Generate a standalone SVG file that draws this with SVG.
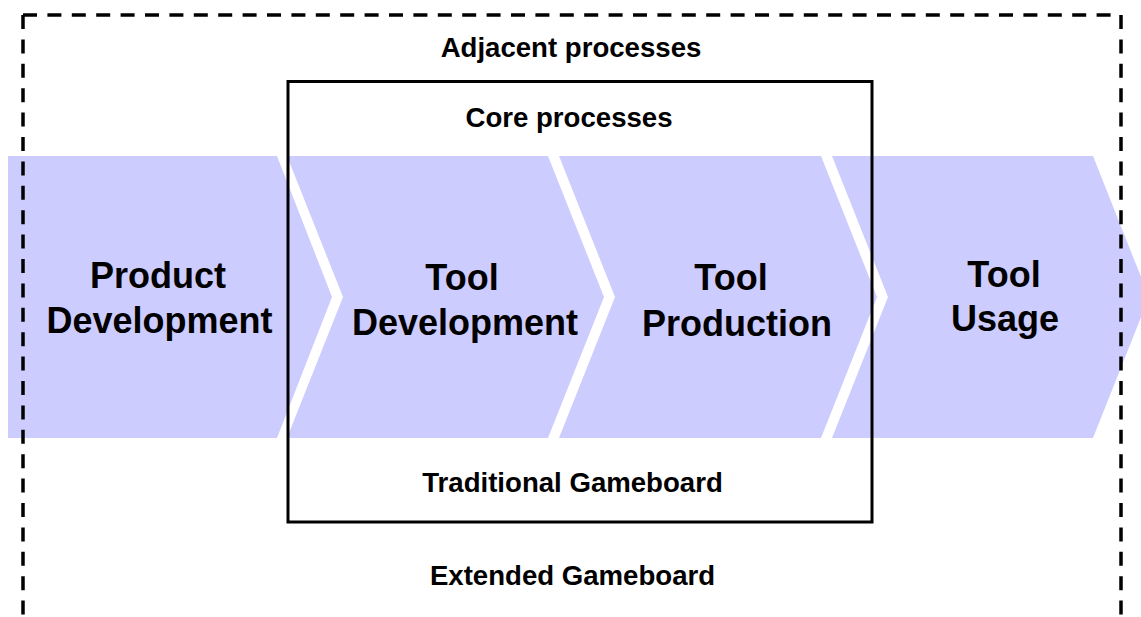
<svg xmlns="http://www.w3.org/2000/svg" width="1141" height="617" viewBox="0 0 1141 617">
  <style>
    .step { fill: #CCCCFF; }
    .big { font-family: "Liberation Sans", Arial, sans-serif; font-weight: bold; font-size: 36px; fill: #000; text-anchor: middle; }
    .cap { font-family: "Liberation Sans", Arial, sans-serif; font-weight: bold; font-size: 27.6px; fill: #000; text-anchor: middle; }
    .frame { fill: none; stroke: #000; stroke-width: 3; }
    .dashed { fill: none; stroke: #000; stroke-width: 3.5; stroke-dasharray: 14 10.4; }
  </style>
  <rect width="1141" height="617" fill="#fff"/>

  <!-- process chain -->
  <g id="product-development">
    <polygon class="step" points="8,156 277,156 332,297 277,438 8,438"/>
    <text class="big" x="158" y="288">Product</text>
    <text class="big" x="159.5" y="333">Development</text>
  </g>
  <g id="tool-development">
    <polygon class="step" points="287,156 548,156 604,297 548,438 287,438 343,297"/>
    <text class="big" x="462" y="290">Tool</text>
    <text class="big" x="465" y="335">Development</text>
  </g>
  <g id="tool-production">
    <polygon class="step" points="559,156 821,156 877,297 821,438 559,438 615,297"/>
    <text class="big" x="731" y="290">Tool</text>
    <text class="big" x="737" y="336">Production</text>
  </g>
  <g id="tool-usage">
    <polygon class="step" points="832,156 1093,156 1149,297 1093,438 832,438 888,297"/>
    <text class="big" x="1004" y="287">Tool</text>
    <text class="big" x="1005" y="331">Usage</text>
  </g>

  <!-- traditional gameboard: core processes -->
  <g id="traditional-gameboard">
    <rect class="frame" x="288" y="81.5" width="584" height="440.5"/>
    <text class="cap" x="569" y="127">Core processes</text>
    <text class="cap" x="572.5" y="492">Traditional Gameboard</text>
  </g>

  <!-- extended gameboard: adjacent processes -->
  <g id="extended-gameboard">
    <path class="dashed" d="M23,15 V640"/>
    <path class="dashed" d="M23,15 H1121 V640"/>
    <text class="cap" x="571" y="57">Adjacent processes</text>
    <text class="cap" x="572.5" y="585">Extended Gameboard</text>
  </g>
</svg>
